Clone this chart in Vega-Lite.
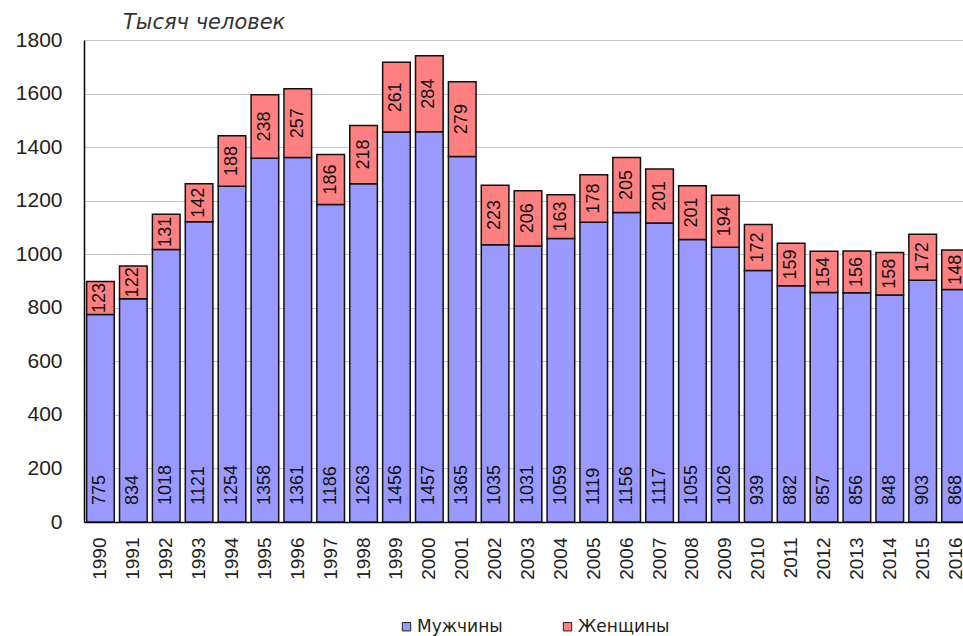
{
  "$schema": "https://vega.github.io/schema/vega-lite/v6.json",
  "autosize": {"type": "none"},
  "padding": {"left": 84, "top": 40, "right": 0, "bottom": 114},
  "width": 888,
  "height": 482,
  "background": "white",
  "config": {
    "view": {"stroke": null},
    "font": "Liberation Sans"
  },
  "title": {
    "text": "Тысяч человек",
    "anchor": "start",
    "frame": "group",
    "dx": 39,
    "offset": -4,
    "font": "DejaVu Sans",
    "fontSize": 21,
    "fontStyle": "italic",
    "fontWeight": "normal",
    "color": "#333"
  },
  "data": {
    "values": [
      {"year": "1990", "Мужчины": 775, "Женщины": 123},
      {"year": "1991", "Мужчины": 834, "Женщины": 122},
      {"year": "1992", "Мужчины": 1018, "Женщины": 131},
      {"year": "1993", "Мужчины": 1121, "Женщины": 142},
      {"year": "1994", "Мужчины": 1254, "Женщины": 188},
      {"year": "1995", "Мужчины": 1358, "Женщины": 238},
      {"year": "1996", "Мужчины": 1361, "Женщины": 257},
      {"year": "1997", "Мужчины": 1186, "Женщины": 186},
      {"year": "1998", "Мужчины": 1263, "Женщины": 218},
      {"year": "1999", "Мужчины": 1456, "Женщины": 261},
      {"year": "2000", "Мужчины": 1457, "Женщины": 284},
      {"year": "2001", "Мужчины": 1365, "Женщины": 279},
      {"year": "2002", "Мужчины": 1035, "Женщины": 223},
      {"year": "2003", "Мужчины": 1031, "Женщины": 206},
      {"year": "2004", "Мужчины": 1059, "Женщины": 163},
      {"year": "2005", "Мужчины": 1119, "Женщины": 178},
      {"year": "2006", "Мужчины": 1156, "Женщины": 205},
      {"year": "2007", "Мужчины": 1117, "Женщины": 201},
      {"year": "2008", "Мужчины": 1055, "Женщины": 201},
      {"year": "2009", "Мужчины": 1026, "Женщины": 194},
      {"year": "2010", "Мужчины": 939, "Женщины": 172},
      {"year": "2011", "Мужчины": 882, "Женщины": 159},
      {"year": "2012", "Мужчины": 857, "Женщины": 154},
      {"year": "2013", "Мужчины": 856, "Женщины": 156},
      {"year": "2014", "Мужчины": 848, "Женщины": 158},
      {"year": "2015", "Мужчины": 903, "Женщины": 172},
      {"year": "2016", "Мужчины": 868, "Женщины": 148}
    ]
  },
  "encoding": {
    "x": {
      "field": "year",
      "type": "nominal",
      "title": null,
      "scale": {"paddingInner": 0.16, "paddingOuter": 0.08},
      "axis": {
        "labelAngle": -90,
        "labelFontSize": 19,
        "labelPadding": 15,
        "ticks": false,
        "domainColor": "#000",
        "domainWidth": 1.5,
        "labelColor": "#222"
      }
    }
  },
  "layer": [
    {
      "transform": [{"fold": ["Мужчины", "Женщины"], "as": ["sex", "value"]}],
      "mark": {"type": "bar", "stroke": "#111", "strokeWidth": 1.5},
      "encoding": {
        "y": {
          "field": "value",
          "type": "quantitative",
          "stack": "zero",
          "title": null,
          "scale": {"domain": [0, 1800], "nice": false},
          "axis": {
            "values": [0, 200, 400, 600, 800, 1000, 1200, 1400, 1600, 1800],
            "format": "d",
            "labelFontSize": 21,
            "labelPadding": 22,
            "ticks": false,
            "domainColor": "#000",
            "domainWidth": 1.5,
            "gridColor": "#c4c4c4",
            "gridWidth": 1.2,
            "labelColor": "#222"
          }
        },
        "color": {
          "field": "sex",
          "type": "nominal",
          "scale": {"domain": ["Мужчины", "Женщины"], "range": ["#9999FF", "#FF8080"]},
          "legend": {
            "title": null,
            "orient": "none",
            "direction": "horizontal",
            "legendX": 314,
            "legendY": 578,
            "symbolType": "square",
            "symbolSize": 70,
            "symbolStrokeColor": "#222",
            "symbolStrokeWidth": 1,
            "labelFont": "DejaVu Sans",
            "labelFontSize": 17,
            "labelColor": "#222",
            "columnPadding": 56,
            "labelOffset": 2
          }
        },
        "order": {"field": "sex", "sort": "descending"}
      }
    },
    {
      "transform": [
        {"fold": ["Мужчины", "Женщины"], "as": ["sex", "value"]},
        {"stack": "value", "groupby": ["year"], "sort": [{"field": "sex", "order": "descending"}], "as": ["v0", "v1"]},
        {"filter": "datum.sex === 'Женщины'"},
        {"fold": ["v0", "v1"], "as": ["edge", "pos"]}
      ],
      "mark": {"type": "text", "angle": 270, "align": "center", "baseline": "middle", "fontSize": 18, "color": "#111"},
      "encoding": {
        "y": {"field": "pos", "type": "quantitative", "aggregate": "mean"},
        "text": {"field": "value", "type": "quantitative", "aggregate": "max"}
      }
    },
    {
      "mark": {"type": "text", "angle": 270, "align": "left", "baseline": "middle", "fontSize": 18, "color": "#111", "yOffset": -17},
      "encoding": {
        "y": {"datum": 0, "type": "quantitative"},
        "text": {"field": "Мужчины", "type": "quantitative"}
      }
    }
  ]
}
